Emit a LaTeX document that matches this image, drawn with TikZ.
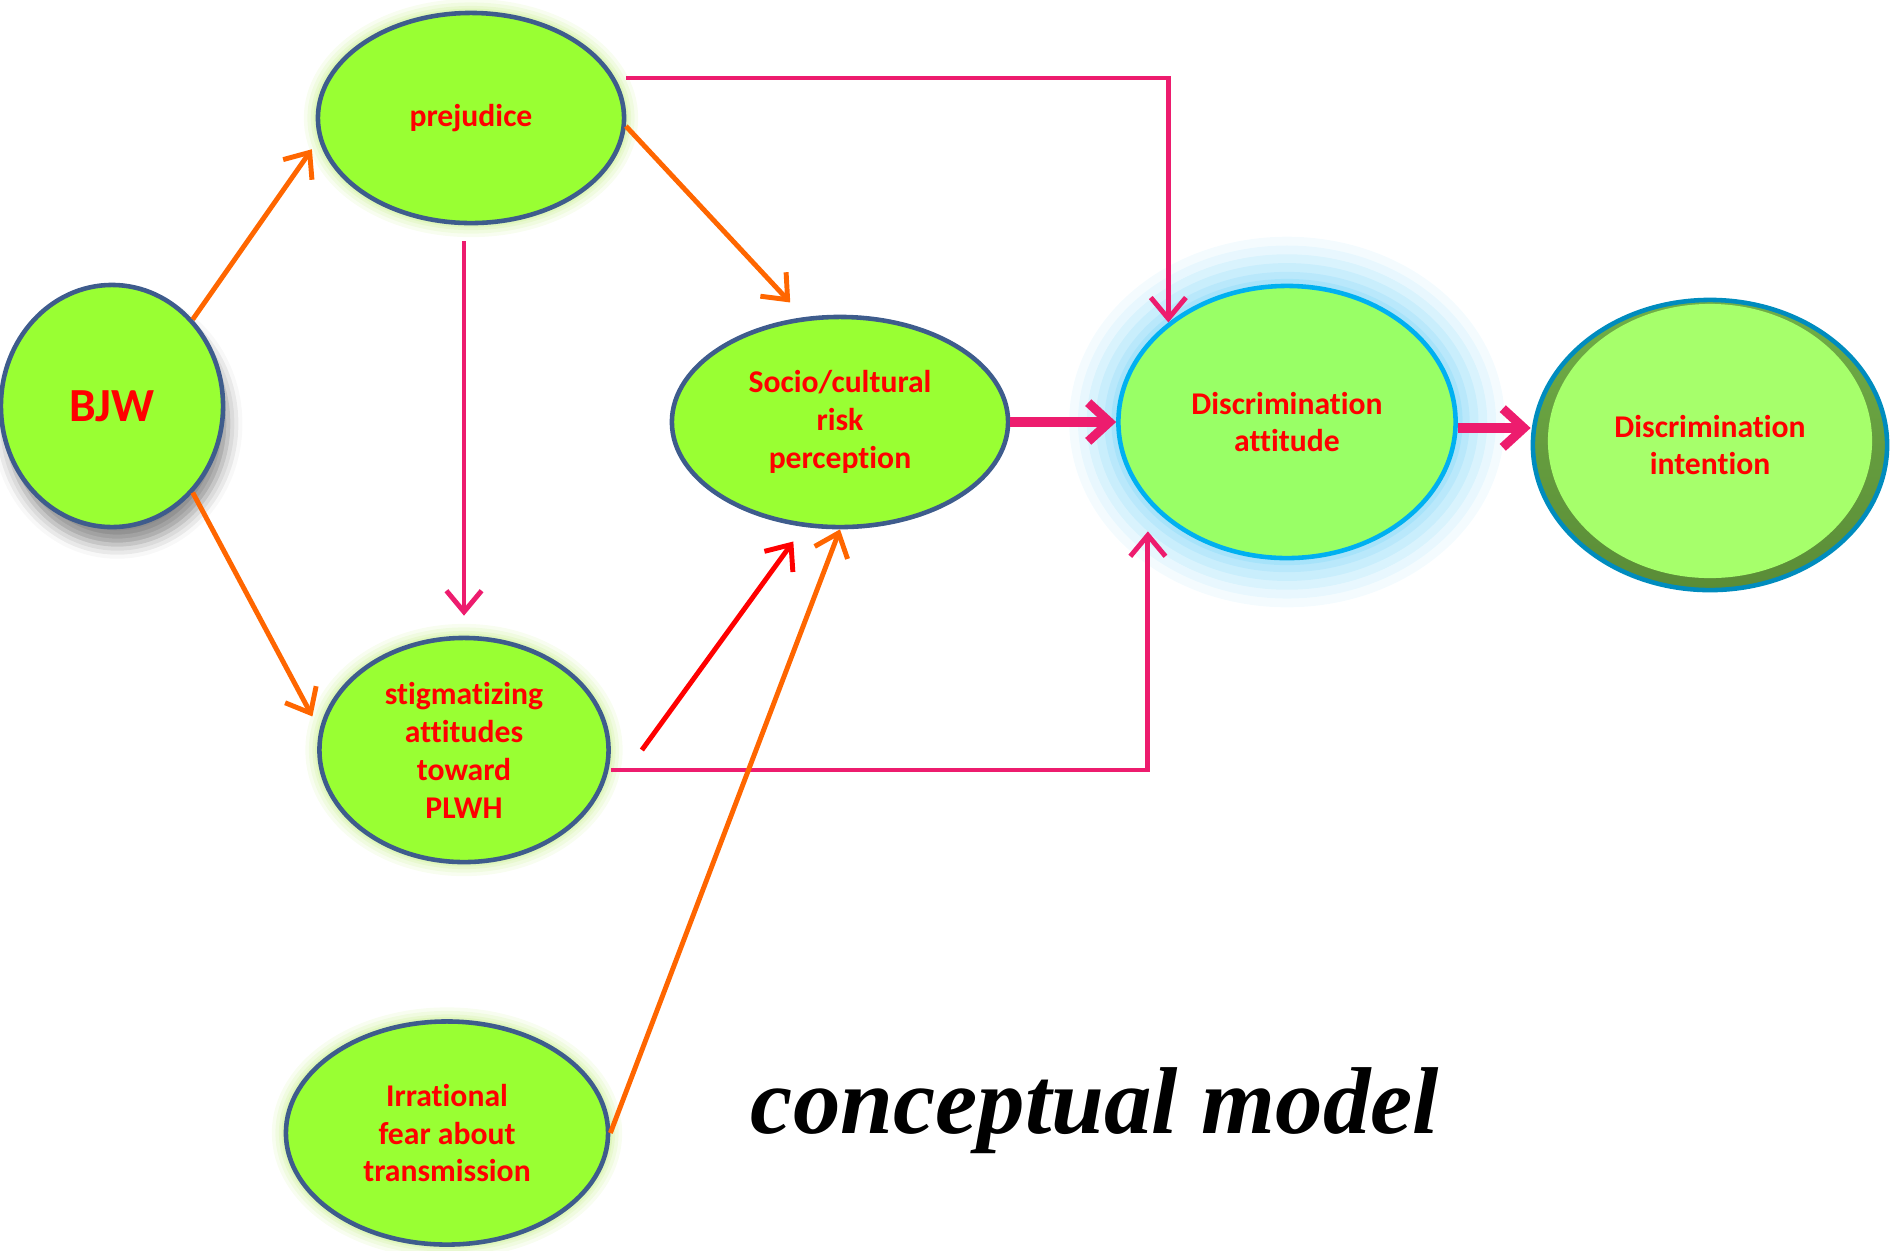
\documentclass[tikz,border=0pt]{standalone}
\usepackage{fontspec}
\setmainfont{Carlito}[Ligatures=NoCommon]
\newfontfamily\titlefont{Liberation Serif}
\usepackage{xcolor}
\usetikzlibrary{arrows.meta, shapes.geometric, shadows.blur}

\definecolor{nodegreen}{RGB}{153,255,51}
\definecolor{nodeline}{RGB}{62,92,140}
\definecolor{glowgreen}{RGB}{185,235,110}
\definecolor{attgreen}{RGB}{153,255,102}
\definecolor{attline}{RGB}{0,176,240}
\definecolor{glowblue}{RGB}{70,195,245}
\definecolor{intlight}{RGB}{166,255,107}
\definecolor{intrim}{RGB}{90,140,55}
\definecolor{intline}{RGB}{0,140,190}
\definecolor{linkpink}{RGB}{237,28,110}
\definecolor{linkorange}{RGB}{255,102,0}
\definecolor{textred}{RGB}{255,0,0}

\begin{document}
\begin{tikzpicture}[x=0.01cm, y=-0.01cm, font=\fontsize{9}{10.8}\selectfont\bfseries,
    concept/.style={ellipse, draw=nodeline, line width=1.3pt, fill=nodegreen, text=textred, align=center, inner sep=0pt},
    halo/.style={preaction={draw=#1, line width=8pt, opacity=0.1}, preaction={draw=#1, line width=6pt, opacity=0.12}, preaction={draw=#1, line width=4pt, opacity=0.15}, preaction={draw=#1, line width=2.5pt, opacity=0.2}},
    bighalo/.style={preaction={draw=#1, line width=28pt, opacity=0.06}, preaction={draw=#1, line width=23pt, opacity=0.07}, preaction={draw=#1, line width=18pt, opacity=0.09}, preaction={draw=#1, line width=13pt, opacity=0.11}, preaction={draw=#1, line width=8pt, opacity=0.13}, preaction={draw=#1, line width=4pt, opacity=0.15}},
    orangelink/.style={draw=linkorange, line width=1.4pt, -{Straight Barb[length=6pt, width=10pt]}},
    redlink/.style={draw=textred, line width=1.4pt, -{Straight Barb[length=6pt, width=10pt]}},
    pinklink/.style={draw=linkpink, line width=1.4pt, -{Straight Barb[length=6pt, width=10pt]}},
    boldlink/.style={draw=linkpink, line width=2.6pt, -{Straight Barb[length=6pt, width=11pt]}}]
  \useasboundingbox (0,0) rectangle (1890,1250);

  \node[concept, minimum width=2.22cm, minimum height=2.42cm, font=\fontsize{13.5}{16}\selectfont\bfseries,
        blur shadow={shadow xshift=1.5pt, shadow yshift=-5pt, shadow blur radius=4pt, shadow opacity=45}]
        (bjw) at (112,406) {BJW};
  \node[concept, halo=glowgreen, minimum width=3.06cm, minimum height=2.10cm]
        (prej) at (471,118) {prejudice};
  \node[concept, minimum width=3.36cm, minimum height=2.10cm]
        (socio) at (840,422) {Socio/cultural\\risk\\perception};
  \node[concept, halo=glowgreen, minimum width=2.89cm, minimum height=2.24cm]
        (stig) at (464,750) {stigmatizing\\attitudes\\toward\\PLWH};
  \node[concept, halo=glowgreen, minimum width=3.22cm, minimum height=2.23cm]
        (irr) at (447,1133) {Irrational\\fear about\\transmission};
  \node[concept, bighalo=glowblue, fill=attgreen, draw=attline, minimum width=3.37cm, minimum height=2.72cm]
        (att) at (1287,422) {Discrimination\\attitude};
  \node[concept, draw=intline, top color=intrim!70!intlight, bottom color=intrim, minimum width=3.54cm, minimum height=2.90cm,
        path picture={\fill[intlight] ([yshift=0.04cm]path picture bounding box.center) ellipse [x radius=1.62cm, y radius=1.37cm];}]
        (int) at (1710,445) {Discrimination\\intention};

  \draw[orangelink, shorten >=0.12cm] (bjw.47) -- (prej.188);
  \draw[orangelink, shorten >=0.15cm] (bjw.313) -- (stig.172);
  \draw[orangelink, shorten >=0.2cm] (prej.357) -- (socio.109);
  \draw[pinklink, shorten <=0.16cm, shorten >=0.2cm] (prej.south -| stig.north) -- (stig.north);
  \draw[pinklink] ([yshift=0.4cm]prej.east) -| (att.140);
  \draw[pinklink, shorten >=0.29cm] ([yshift=-0.2cm]stig.east) -| (att.210);
  \draw[redlink, shorten >=0.18cm] ([xshift=0.31cm]stig.east) -- (socio.251);
  \draw[orangelink] (irr.east) -- (socio.south);
  \draw[boldlink] (socio.east) -- (att.west);
  \draw[boldlink] ([yshift=-0.06cm]att.east) -- ([yshift=-0.06cm]att.east -| int.west);

  \node[font=\titlefont\fontsize{27}{32}\selectfont\bfseries\itshape, anchor=base]
        (title) at (1095,1133) {conceptual model};
\end{tikzpicture}
\end{document}
